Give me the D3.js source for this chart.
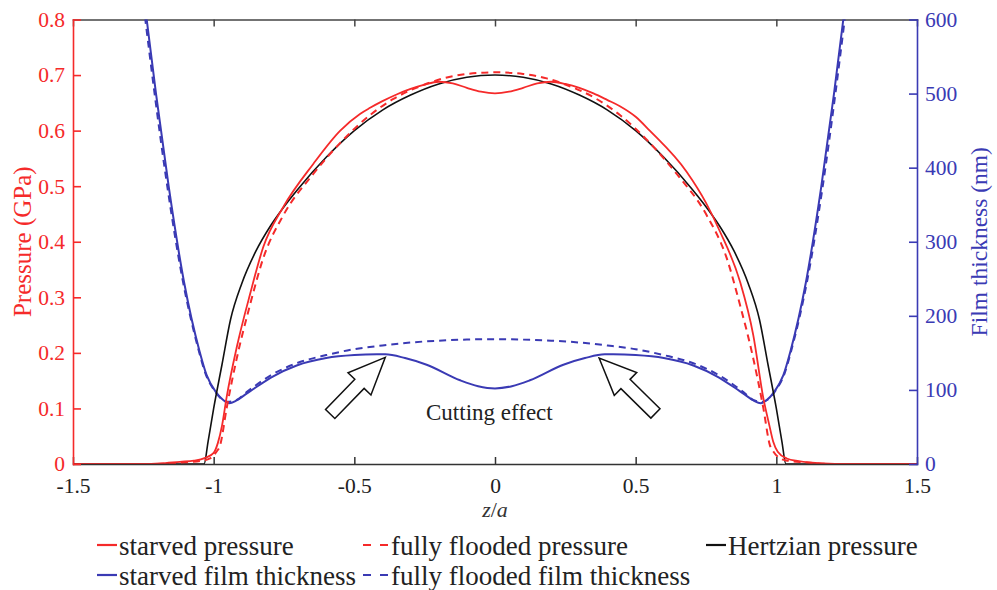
<!DOCTYPE html>
<html>
<head>
<meta charset="utf-8">
<script src="https://cdn.jsdelivr.net/npm/d3@7"></script>
<style>
  body { margin: 0; background: #fff; }
  svg text { font-family: "Liberation Serif", "Times New Roman", serif; }
</style>
</head>
<body>
<svg id="chart" width="997" height="590"></svg>
<script>
// z/a positions and values
var hertzZ = [-1.5, -1.034, -1.02, -1.0, -0.97, -0.94, -0.9, -0.85, -0.8, -0.75, -0.7, -0.6, -0.5, -0.4, -0.3, -0.2, -0.1, 0,
              0.1, 0.2, 0.3, 0.4, 0.5, 0.6, 0.7, 0.75, 0.8, 0.85, 0.9, 0.94, 0.97, 1.0, 1.02, 1.034, 1.5];
var hertzP = [0, 0, 0.04, 0.10, 0.18, 0.26, 0.325, 0.383, 0.427, 0.463, 0.495, 0.552, 0.600, 0.637, 0.664, 0.684, 0.696, 0.700,
              0.696, 0.684, 0.664, 0.637, 0.600, 0.552, 0.495, 0.463, 0.427, 0.383, 0.325, 0.26, 0.18, 0.10, 0.04, 0, 0];

var starvedPZ = [-1.5, -1.25, -1.19, -1.12, -1.07, -1.03, -1.0, -0.985, -0.97, -0.954, -0.918, -0.871, -0.824, -0.752, -0.646,
                 -0.55, -0.48, -0.444, -0.4, -0.35, -0.3, -0.25, -0.2, -0.15, -0.1, -0.05, 0,
                 0.05, 0.1, 0.15, 0.2, 0.25, 0.3, 0.35, 0.4, 0.444, 0.5,
                 0.55, 0.681, 0.75, 0.8, 0.871, 0.918, 0.954, 0.975, 0.989, 1.005, 1.037, 1.08, 1.166, 1.25, 1.5];
var starvedP = [0, 0, 0.001, 0.004, 0.006, 0.011, 0.02, 0.038, 0.07, 0.12, 0.21, 0.305, 0.39, 0.463, 0.54,
                0.60, 0.630, 0.641, 0.653, 0.665, 0.675, 0.683, 0.688, 0.685, 0.677, 0.670, 0.667,
                0.670, 0.677, 0.685, 0.688, 0.684, 0.677, 0.667, 0.655, 0.644, 0.625,
                0.60, 0.526, 0.47, 0.418, 0.328, 0.232, 0.118, 0.07, 0.040, 0.022, 0.010, 0.005, 0.001, 0, 0];

var floodPZ = [-1.5, -1.2, -1.1, -1.04, -1.013, -0.99, -0.977, -0.954, -0.918, -0.871, -0.824, -0.752, -0.646, -0.55, -0.444,
               -0.361, -0.25, -0.184, -0.1, 0, 0.1, 0.184, 0.25, 0.361, 0.444, 0.55, 0.646, 0.752, 0.824, 0.871, 0.918,
               0.954, 0.977, 0.99, 1.013, 1.04, 1.1, 1.2, 1.5];
var floodP = [0, 0, 0.003, 0.006, 0.010, 0.022, 0.034, 0.100, 0.190, 0.286, 0.370, 0.448, 0.522, 0.578, 0.628,
              0.657, 0.683, 0.694, 0.702, 0.705, 0.702, 0.694, 0.683, 0.657, 0.628, 0.578, 0.522, 0.448, 0.370, 0.286, 0.190,
              0.100, 0.034, 0.022, 0.010, 0.006, 0.003, 0, 0];

var starvedHZ = [-1.27, -1.238, -1.205, -1.16, -1.105, -1.05, -1.025, -0.99, -0.965, -0.944, -0.92, -0.883, -0.84, -0.79,
                 -0.705, -0.6, -0.5, -0.42, -0.39, -0.32, -0.243, -0.124, -0.06, 0, 0.06, 0.124, 0.243, 0.32, 0.39, 0.42,
                 0.5, 0.6, 0.705, 0.79, 0.84, 0.883, 0.92, 0.944, 0.965, 0.99, 1.025, 1.05, 1.105, 1.16, 1.205, 1.238, 1.27];
var starvedH = [700, 600, 500, 375, 245, 152, 120, 96, 86, 82, 85.5, 95, 106, 118,
                133, 143, 147, 148, 148, 143, 134, 113, 105, 102, 105, 113, 134, 143, 148, 148,
                147, 143, 133, 118, 106, 95, 85.5, 82, 86, 96, 120, 152, 245, 375, 500, 600, 700];

var floodHZ = [-1.275, -1.243, -1.21, -1.165, -1.11, -1.055, -1.03, -0.995, -0.97, -0.95, -0.92, -0.883, -0.8, -0.705, -0.6,
               -0.5, -0.4, -0.3, -0.2, -0.1, 0, 0.1, 0.2, 0.3, 0.4, 0.5, 0.6, 0.705, 0.8, 0.883, 0.92, 0.95, 0.97, 0.995,
               1.03, 1.055, 1.11, 1.165, 1.21, 1.243, 1.275];
var floodH = [700, 600, 500, 375, 248, 156, 123, 98, 87, 84, 86, 97, 119, 136, 147,
              155, 160, 164, 166.5, 168, 168.5, 168, 166.5, 164, 160, 155, 147, 136, 119, 97, 86, 84, 87, 98,
              123, 156, 248, 375, 500, 600, 700];

var xTicks = [-1.5, -1, -0.5, 0, 0.5, 1, 1.5];
var pTicks = [0, 0.1, 0.2, 0.3, 0.4, 0.5, 0.6, 0.7, 0.8];
var hTicks = [0, 100, 200, 300, 400, 500, 600];

var legendLabels = ["starved pressure", "fully flooded pressure", "Hertzian pressure",
                    "starved film thickness", "fully flooded film thickness"];

var RED = "#f52a2a", BLUE = "#3a3ab4", BLACK = "#111";

var svg = d3.select("#chart");
var padL = 73, padR = 917, padT = 19.5, padB = 464;

var x = d3.scaleLinear().domain([-1.5, 1.5]).range([padL, padR]);
var yP = d3.scaleLinear().domain([0, 0.8]).range([padB, padT]);
var yH = d3.scaleLinear().domain([0, 600]).range([padB, padT]);

function fmt(d) { return String(+d.toFixed(2)); }

svg.append("clipPath").attr("id", "plotclip")
    .append("rect").attr("x", padL).attr("y", padT).attr("width", padR - padL).attr("height", padB - padT);

// top frame
var topAxis = svg.append("g").attr("transform", "translate(0," + padT + ")")
    .call(d3.axisTop(x).tickValues(xTicks).tickSize(-7).tickSizeOuter(0).tickFormat(""));
topAxis.selectAll("path,line").attr("stroke", "#444").attr("stroke-width", 1.5);

var plot = svg.append("g").attr("clip-path", "url(#plotclip)");

function series(zs, vs, yScale, color, width, dash) {
    var pts = zs.map(function(z, i) { return [z, vs[i]]; });
    var line = d3.line()
        .x(function(d) { return x(d[0]); })
        .y(function(d) { return yScale(d[1]); })
        .curve(d3.curveMonotoneX);
    plot.append("path").datum(pts)
        .attr("d", line)
        .attr("fill", "none")
        .attr("stroke", color)
        .attr("stroke-width", width)
        .attr("stroke-dasharray", dash || null);
}

series(floodHZ, floodH, yH, BLUE, 2, "7,5");
series(starvedHZ, starvedH, yH, BLUE, 2);
series(hertzZ, hertzP, yP, BLACK, 1.6);
series(floodPZ, floodP, yP, RED, 2, "7,5");
series(starvedPZ, starvedP, yP, RED, 1.8);

// axes
var bottomAxis = svg.append("g").attr("transform", "translate(0," + padB + ")")
    .call(d3.axisBottom(x).tickValues(xTicks).tickSize(-7).tickSizeOuter(0).tickPadding(14).tickFormat(fmt));
bottomAxis.selectAll("path,line").attr("stroke", "#333").attr("stroke-width", 1.5);
bottomAxis.selectAll("text").attr("fill", "#222").attr("font-size", 21.5);

var leftAxis = svg.append("g").attr("transform", "translate(" + padL + ",0)")
    .call(d3.axisLeft(yP).tickValues(pTicks).tickSize(-8).tickSizeOuter(0).tickPadding(8).tickFormat(fmt));
leftAxis.selectAll("path,line").attr("stroke", RED).attr("stroke-width", 1.6);
leftAxis.selectAll("text").attr("fill", RED).attr("font-size", 21.5);

var rightAxis = svg.append("g").attr("transform", "translate(" + padR + ",0)")
    .call(d3.axisRight(yH).tickValues(hTicks).tickSize(-8).tickSizeOuter(0).tickPadding(8).tickFormat(fmt));
rightAxis.selectAll("path,line").attr("stroke", BLUE).attr("stroke-width", 1.6);
rightAxis.selectAll("text").attr("fill", BLUE).attr("font-size", 21.5);

svg.selectAll(".domain").attr("stroke-linecap", "square");

// axis titles
svg.append("text")
    .attr("transform", "translate(31," + ((padT + padB) / 2) + ") rotate(-90)")
    .attr("text-anchor", "middle")
    .attr("fill", RED).attr("font-size", 25)
    .text("Pressure (GPa)");

svg.append("text")
    .attr("transform", "translate(987," + ((padT + padB) / 2) + ") rotate(-90)")
    .attr("text-anchor", "middle")
    .attr("fill", BLUE).attr("font-size", 23.5)
    .text("Film thickness (nm)");

var xl = svg.append("text")
    .attr("x", (padL + padR) / 2).attr("y", 517)
    .attr("text-anchor", "middle")
    .attr("fill", "#333").attr("font-size", 22);
xl.append("tspan").attr("font-style", "italic").text("z");
xl.append("tspan").text("/");
xl.append("tspan").attr("font-style", "italic").text("a");

// cutting effect annotation
var arrows = [{ z: -0.39, h: 144, angle: -45.8 }, { z: 0.37, h: 143, angle: -135.5 }];
var arrowShape = [[0, 0], [-37, -16], [-37, -6.5], [-79, -6.5], [-79, 6.5], [-37, 6.5], [-37, 16]];
arrows.forEach(function(a) {
    svg.append("polygon")
        .attr("points", arrowShape.map(function(p) { return p.join(","); }).join(" "))
        .attr("transform", "translate(" + x(a.z) + "," + yH(a.h) + ") rotate(" + a.angle + ")")
        .attr("fill", "#fff")
        .attr("stroke", "#111")
        .attr("stroke-width", 1.5)
        .attr("stroke-linejoin", "miter");
});

svg.append("text")
    .attr("x", x(-0.02)).attr("y", 420)
    .attr("text-anchor", "middle")
    .attr("fill", "#222").attr("font-size", 23)
    .text("Cutting effect");

// legend
var legendItems = [
    { label: legendLabels[0], color: RED, dash: null, x: 97, y: 545 },
    { label: legendLabels[1], color: RED, dash: "8,9", x: 363, y: 545 },
    { label: legendLabels[2], color: BLACK, dash: null, x: 706, y: 545 },
    { label: legendLabels[3], color: BLUE, dash: null, x: 97, y: 575 },
    { label: legendLabels[4], color: BLUE, dash: "8,9", x: 363, y: 575 }
];
var leg = svg.append("g").selectAll("g").data(legendItems).enter().append("g")
    .attr("transform", function(d) { return "translate(" + d.x + "," + d.y + ")"; });
leg.append("line")
    .attr("x1", 0).attr("x2", function(d) { return d.dash ? 25 : 20; })
    .attr("y1", 0).attr("y2", 0)
    .attr("stroke", function(d) { return d.color; })
    .attr("stroke-width", 2.2)
    .attr("stroke-dasharray", function(d) { return d.dash; });
leg.append("text")
    .attr("x", function(d) { return d.dash ? 28 : 22; })
    .attr("y", 9.5)
    .attr("fill", "#222").attr("font-size", 27)
    .text(function(d) { return d.label; });
</script>
</body>
</html>
